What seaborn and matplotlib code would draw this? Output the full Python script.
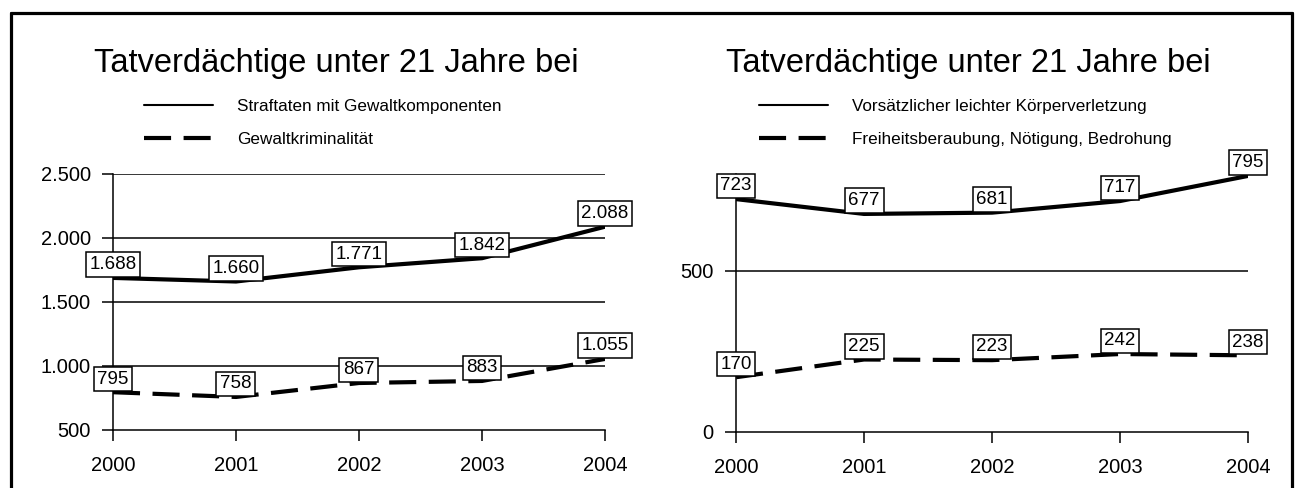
import seaborn as sns
import pandas as pd
import matplotlib.pyplot as plt
from matplotlib.lines import Line2D

sns.set_theme(style="white")
plt.rcParams['font.family'] = ['Liberation Sans', 'DejaVu Sans']
plt.rcParams['text.color'] = 'black'
plt.rcParams['xtick.color'] = 'black'
plt.rcParams['ytick.color'] = 'black'

years = [2000, 2001, 2002, 2003, 2004]
title = "Tatverdächtige unter 21 Jahre bei"

left_names = ["Straftaten mit Gewaltkomponenten", "Gewaltkriminalität"]
left_solid = [1688, 1660, 1771, 1842, 2088]
left_dashed = [795, 758, 867, 883, 1055]
left_ticks = [500, 1000, 1500, 2000, 2500]
left_ticklabels = ["500", "1.000", "1.500", "2.000", "2.500"]

right_names = ["Vorsätzlicher leichter Körperverletzung",
               "Freiheitsberaubung, Nötigung, Bedrohung"]
right_solid = [723, 677, 681, 717, 795]
right_dashed = [170, 225, 223, 242, 238]
right_ticks = [0, 500]
right_ticklabels = ["0", "500"]

DASH = (6.5, 3)


def fmt(v):
    return f"{v:,}".replace(",", ".")


def panel(ax, names, solid, dashed, ticks, ticklabels, ylim):
    df = pd.DataFrame({
        "Jahr": years * 2,
        "Wert": solid + dashed,
        "Reihe": [names[0]] * 5 + [names[1]] * 5,
    })
    sns.lineplot(data=df, x="Jahr", y="Wert", style="Reihe",
                 dashes={names[0]: "", names[1]: DASH},
                 color="black", linewidth=3, legend=False, ax=ax)
    ax.set_xlim(years[0], years[-1])
    ax.set_ylim(*ylim)
    ax.set_xticks(years)
    ax.set_xticklabels([str(y) for y in years], fontsize=14.5)
    ax.set_yticks(ticks)
    ax.set_yticklabels(ticklabels, fontsize=14.5)
    ax.set_xlabel("")
    ax.set_ylabel("")
    for t in ticks[1:]:
        ax.axhline(t, color="black", linewidth=1.1, zorder=1)
    for s in ["top", "right"]:
        ax.spines[s].set_visible(False)
    for s in ["left", "bottom"]:
        ax.spines[s].set_color("black")
        ax.spines[s].set_linewidth(1.1)
    ax.tick_params(axis="both", direction="out", length=8, width=1.1,
                   color="black", left=True, bottom=True)
    ax.tick_params(axis="x", pad=11)
    ax.tick_params(axis="y", pad=8)
    for series in (solid, dashed):
        for x, v in zip(years, series):
            ax.annotate(fmt(v), (x, v), xytext=(0, 9.5), textcoords="offset points",
                        ha="center", va="center", fontsize=13.5, zorder=5,
                        bbox=dict(boxstyle="square,pad=0.2", fc="white",
                                  ec="black", lw=1.1))
    handles = [Line2D([], [], color="black", lw=1.5),
               Line2D([], [], color="black", lw=3, dashes=DASH)]
    ax.legend(handles, names, frameon=False, fontsize=12.3, loc="upper left",
              handlelength=4.0, handletextpad=1.45, labelspacing=1.05,
              borderaxespad=0, borderpad=0)


fig = plt.figure(figsize=(13, 4.88), dpi=100)
ax1 = fig.add_axes([0.0869, 0.1189, 0.3785, 0.5246])
ax2 = fig.add_axes([0.5662, 0.1148, 0.3938, 0.5280])
panel(ax1, left_names, left_solid, left_dashed, left_ticks, left_ticklabels, (500, 2500))
panel(ax2, right_names, right_solid, right_dashed, right_ticks, right_ticklabels, (0, 800))

# titles and legends placed above the plot area
fig.text(0.259, 0.869, title, ha="center", va="center", fontsize=23.5)
fig.text(0.745, 0.869, title, ha="center", va="center", fontsize=23.5)
ax1.legend_.set_bbox_to_anchor((0.111, 0.798), transform=fig.transFigure)
ax2.legend_.set_bbox_to_anchor((0.584, 0.798), transform=fig.transFigure)

# outer frame
fx0, fx1, fy1 = 11 / 1300, 1292 / 1300, 1 - 13 / 488
fig.add_artist(Line2D([fx0, fx1], [fy1, fy1], color="black", lw=2.3, transform=fig.transFigure))
fig.add_artist(Line2D([fx0, fx0], [0, fy1], color="black", lw=2.3, transform=fig.transFigure))
fig.add_artist(Line2D([fx1, fx1], [0, fy1], color="black", lw=2.3, transform=fig.transFigure))

fig.savefig("out.png", dpi=100, facecolor="white")
